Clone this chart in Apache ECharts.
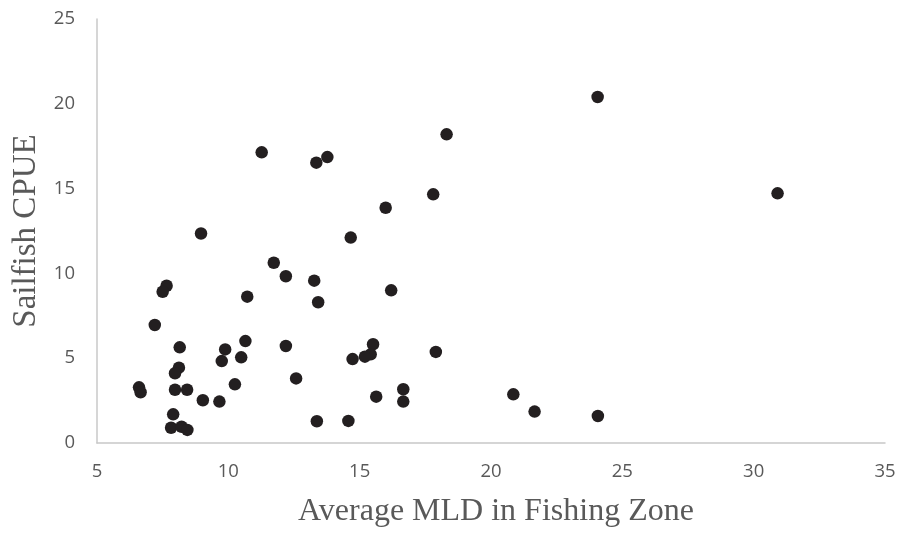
<!DOCTYPE html>
<html>
<head>
<meta charset="utf-8">
<script src="https://cdn.jsdelivr.net/npm/echarts@6/dist/echarts.min.js"></script>
<style>
  html, body { margin: 0; padding: 0; background: #ffffff; }
  #chart { width: 906px; height: 535px; }
</style>
</head>
<body>
<div id="chart"></div>
<script>
// Average mixed-layer depth in the fishing zone vs. sailfish catch per unit effort
const mld = [
  24.06, 18.31, 11.27, 13.35, 13.77, 15.99, 17.80, 30.91, 14.66, 8.96,
  11.73, 12.19, 13.27, 7.65, 7.50, 10.72, 13.42, 16.20, 7.20, 10.65,
  12.19, 8.15, 9.88, 10.49, 9.75, 15.51, 15.42, 15.20, 14.73, 17.90,
  8.12, 7.97, 12.58, 10.25, 6.60, 6.66, 7.97, 8.43, 16.66, 16.66,
  15.63, 20.85, 21.66, 24.07, 9.03, 9.66, 7.90, 7.82, 8.22, 8.44,
  13.37, 14.57
];
const cpue = [
  20.40, 18.20, 17.14, 16.53, 16.86, 13.87, 14.66, 14.72, 12.11, 12.35,
  10.63, 9.83, 9.57, 9.27, 8.92, 8.63, 8.30, 9.00, 6.96, 6.01,
  5.72, 5.64, 5.52, 5.05, 4.83, 5.82, 5.23, 5.09, 4.95, 5.37,
  4.44, 4.11, 3.81, 3.46, 3.28, 2.99, 3.14, 3.14, 3.17, 2.44,
  2.73, 2.87, 1.85, 1.59, 2.52, 2.44, 1.69, 0.90, 0.96, 0.77,
  1.28, 1.30
];
const xTitle = 'Average MLD in Fishing Zone';
const yTitle = 'Sailfish CPUE';

const points = mld.map((x, i) => [x, cpue[i]]);

const chart = echarts.init(document.getElementById('chart'), null, { renderer: 'canvas' });

const tickLabel = {
  color: '#595959',
  fontSize: 18.5,
  fontFamily: '"Open Sans", "Liberation Sans", sans-serif'
};
const serif = '"Liberation Serif", "DejaVu Serif", serif';

chart.setOption({
  animation: false,
  backgroundColor: '#ffffff',
  grid: { left: 97, right: 21, top: 19, bottom: 92, containLabel: false },
  xAxis: {
    type: 'value',
    min: 5, max: 35, interval: 5,
    name: xTitle,
    nameLocation: 'middle',
    nameGap: 53,
    nameTextStyle: { color: '#595959', fontSize: 32, fontFamily: serif, padding: [0, 0, 0, 10] },
    axisLine: { show: true, lineStyle: { color: '#c8c8c8', width: 1.5 } },
    axisTick: { show: false },
    splitLine: { show: false },
    axisLabel: Object.assign({ margin: 19 }, tickLabel)
  },
  yAxis: {
    type: 'value',
    min: 0, max: 25, interval: 5,
    name: yTitle,
    nameLocation: 'middle',
    nameGap: 54,
    nameTextStyle: { color: '#595959', fontSize: 33, fontFamily: serif },
    axisLine: { show: true, lineStyle: { color: '#c8c8c8', width: 1.5 } },
    axisTick: { show: false },
    splitLine: { show: false },
    axisLabel: Object.assign({ margin: 22 }, tickLabel)
  },
  series: [{
    type: 'scatter',
    data: points,
    symbol: 'circle',
    symbolSize: 12.5,
    itemStyle: { color: '#231f20', opacity: 1 }
  }]
});
</script>
</body>
</html>
